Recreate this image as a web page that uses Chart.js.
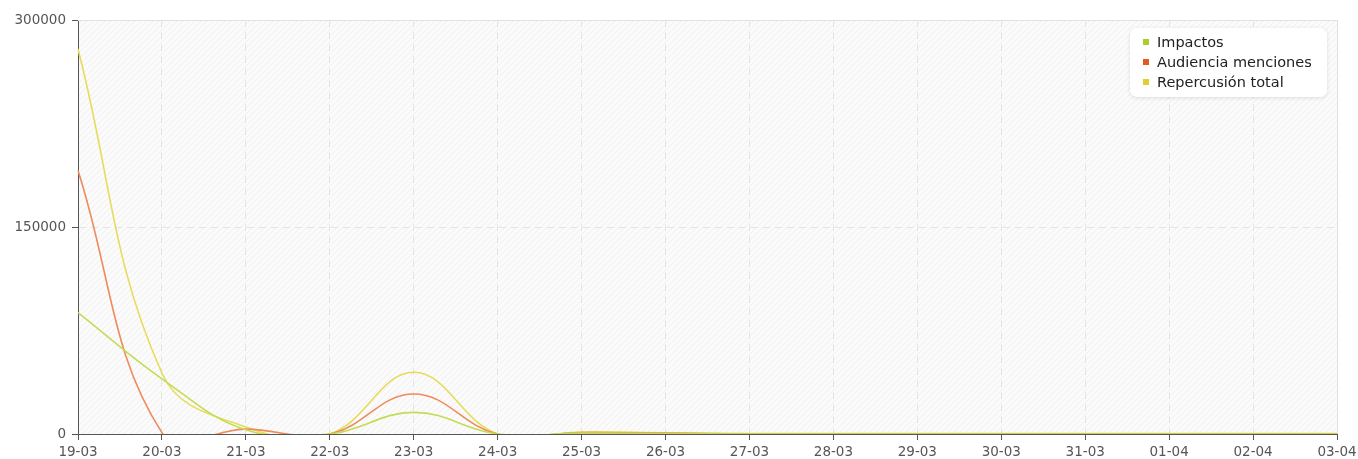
<!DOCTYPE html>
<html>
<head>
<meta charset="utf-8">
<script src="https://cdn.jsdelivr.net/npm/chart.js@4"></script>
<style>
    html, body { margin: 0; padding: 0; background: #ffffff; }
    #wrap { position: relative; width: 1358px; height: 459px; }
    #legend {
        position: absolute; left: 1130px; top: 28px; width: 197px; height: 69px;
        background: #ffffff; border-radius: 7px;
        box-shadow: 0 1px 4px rgba(0,0,0,0.12);
        font-family: "DejaVu Sans", Verdana, sans-serif; font-size: 14.5px; color: #222;
    }
    #legend .item { position: absolute; left: 13px; height: 20px; line-height: 20px; white-space: nowrap; }
    #legend .sw { display: inline-block; width: 6px; height: 6px; margin-right: 8px; vertical-align: 2px; }
</style>
</head>
<body>
<div id="wrap">
    <canvas id="chart_menciones" width="1358" height="459"></canvas>
    <div id="legend"></div>
</div>
<script>
// fechas del periodo
const labels = ["19-03", "20-03", "21-03", "22-03", "23-03", "24-03", "25-03", "26-03",
                "27-03", "28-03", "29-03", "30-03", "31-03", "01-04", "02-04", "03-04"];

const impactos    = [88000, 40000, 3000, 0, 15700, 0, 700, 400, 0, 0, 0, 0, 0, 0, 0, 0];
const audiencia   = [191000, 1000, 3500, 0, 29000, 0, 1000, 600, 0, 0, 0, 0, 0, 0, 0, 0];
const repercusion = [279000, 44000, 5000, 0, 44700, 0, 1500, 900, 300, 300, 300, 300, 300, 300, 300, 300];

const yTicks = [0, 150000, 300000];

const series = [
    { name: "Impactos", data: impactos, line: "#c4dc55", mark: "#a9cd2b" },
    { name: "Audiencia menciones", data: audiencia, line: "#ef8a5c", mark: "#e05a24" },
    { name: "Repercusión total", data: repercusion, line: "#e6dc5c", mark: "#e2cf2c" }
];

// fondo rayado + marco claro
const hatchPlugin = {
    id: "hatch",
    beforeDraw(chart) {
        let area = chart.chartArea;
        let ctx = chart.ctx;
        let tile = document.createElement("canvas");
        tile.width = 6; tile.height = 6;
        let t = tile.getContext("2d");
        t.fillStyle = "#fbfbfb";
        t.fillRect(0, 0, 6, 6);
        t.strokeStyle = "#efefef";
        t.lineWidth = 1;
        t.beginPath();
        t.moveTo(-1, 7); t.lineTo(7, -1);
        t.moveTo(-1, 1); t.lineTo(1, -1);
        t.moveTo(5, 7); t.lineTo(7, 5);
        t.stroke();
        ctx.save();
        ctx.fillStyle = ctx.createPattern(tile, "repeat");
        ctx.fillRect(area.left, area.top, area.right - area.left, area.bottom - area.top);
        ctx.restore();
    },
    beforeDatasetsDraw(chart) {
        let area = chart.chartArea;
        let ctx = chart.ctx;
        ctx.save();
        ctx.strokeStyle = "#e2e2e2";
        ctx.lineWidth = 1;
        ctx.beginPath();
        ctx.moveTo(area.left, area.top + 0.5);
        ctx.lineTo(area.right + 0.5, area.top + 0.5);
        ctx.lineTo(area.right + 0.5, area.bottom);
        ctx.stroke();
        ctx.restore();
    }
};

function renderLegend() {
    let box = document.getElementById("legend");
    series.forEach((s, i) => {
        let div = document.createElement("div");
        div.className = "item";
        div.style.top = (4 + i * 20) + "px";
        div.innerHTML = `<span class="sw" style="background:${s.mark}"></span>${s.name}`;
        box.appendChild(div);
    });
}

function renderChart() {
    let canvas = document.getElementById("chart_menciones");
    let tickFont = { family: "'DejaVu Sans', Verdana, sans-serif", size: 13.5 };

    new Chart(canvas.getContext("2d"), {
        type: "line",
        data: {
            labels: labels,
            datasets: series.map(s => ({
                label: s.name,
                data: s.data,
                borderColor: s.line,
                backgroundColor: s.line,
                borderWidth: 1.6,
                pointRadius: 0,
                tension: 0.4,
                capBezierPoints: false,
                fill: false
            }))
        },
        options: {
            responsive: false,
            animation: false,
            layout: { padding: { top: 20, right: 21, left: 0, bottom: 0 } },
            plugins: { legend: { display: false }, tooltip: { enabled: false } },
            scales: {
                x: {
                    offset: false,
                    grid: { color: "#e4e4e4", tickColor: "#555", tickLength: 6, lineWidth: 1 },
                    border: { color: "#555", width: 1, dash: [7, 5] },
                    ticks: { color: "#555", font: tickFont, padding: 4, maxRotation: 0, autoSkip: false },
                    afterFit: scale => {
                        scale.height = 25;
                        scale.paddingLeft = 0;
                        scale.paddingRight = 0;
                    }
                },
                y: {
                    min: 0,
                    max: 300000,
                    afterBuildTicks: scale => { scale.ticks = yTicks.map(v => ({ value: v })); },
                    grid: { color: "#e4e4e4", tickColor: "#555", tickLength: 6 },
                    border: { color: "#555", width: 1, dash: [7, 5] },
                    ticks: { color: "#555", font: tickFont, padding: 6, callback: v => String(v) },
                    afterFit: scale => { scale.width = 78; }
                }
            }
        },
        plugins: [hatchPlugin]
    });
}

renderLegend();
renderChart();
</script>
</body>
</html>
